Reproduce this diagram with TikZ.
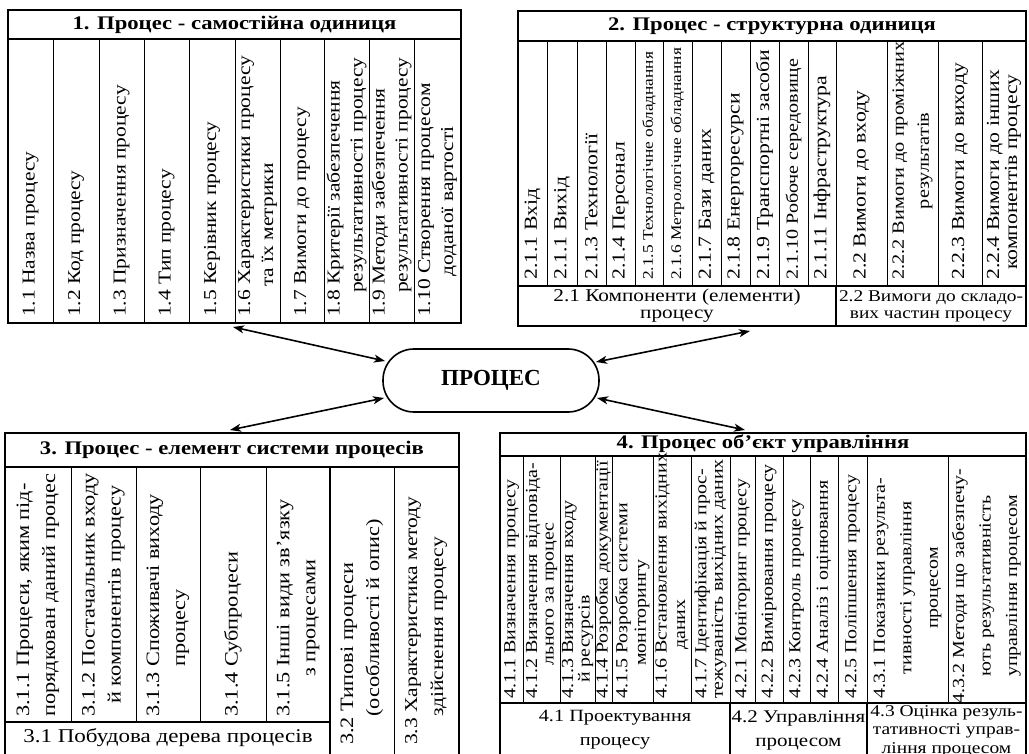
\documentclass[tikz,border=0pt]{standalone}
\usepackage{fontspec}
\setmainfont[FakeStretch=1.18]{Liberation Serif}
\newfontfamily\plainserif{Liberation Serif}
\usetikzlibrary{arrows.meta}
\newcommand{\fs}[2]{\fontsize{#1}{#2}\selectfont}
\tikzset{
  x=1pt, y=-1pt,
  border/.style={line width=1.8pt},
  thin/.style={line width=0.8pt},
  vt/.style={rotate=90, anchor=west, align=left, inner sep=0pt},
  vtc/.style={rotate=90, align=center, inner sep=0pt},
  ttl/.style={inner sep=0pt, font=\fs{19.2}{22}\bfseries},
  cell/.style={align=center, inner sep=0pt},
  conn/.style={line width=1.6pt, {Stealth[length=11pt,width=8pt,inset=3pt]}-{Stealth[length=11pt,width=8pt,inset=3pt]}},
}
\begin{document}
\begin{tikzpicture}
\useasboundingbox (0,0) rectangle (1029,754);
% ---------- Box 1 ----------
\draw[thin] \foreach \x in {53,99,144,189,235,280,324,369,414}{(\x,39) -- (\x,323)};
\draw[border] (8,10) rectangle (461,323) (8,39) -- (461,39);
\node[ttl] (t1) at (234.5,24.5) {1. Процес - самостійна одиниця};
\begin{scope}[every node/.append style={font=\fs{18.2}{23}}]
\node[vt] (c11) at (30.5,317) {1.1 Назва процесу};
\node[vt] (c12) at (76,317) {1.2 Код процесу};
\node[vt] (c13) at (121.5,317) {1.3 Призначення процесу};
\node[vt] (c14) at (166.5,317) {1.4 Тип процесу};
\node[vt] (c15) at (212,317) {1.5 Керівник процесу};
\node[vt] (c16) at (257.5,317) {1.6 Характеристики процесу\\\hspace*{30pt}та їх метрики};
\node[vt] (c17) at (302,317) {1.7 Вимоги до процесу};
\node[vt] (c18) at (346.5,317) {1.8 Критерії забезпечення\\\hspace*{24pt}результативності процесу};
\node[vt] (c19) at (391.5,317) {1.9 Методи забезпечення\\\hspace*{24pt}результативності процесу};
\node[vt] (c110) at (437.5,317) {1.10 Створення процесом\\\hspace*{40pt}доданої вартості};
\end{scope}
% ---------- Box 2 ----------
\draw[thin] \foreach \x in {547,577,606,635,663,692,721,750,779,808,836,887,938,982}{(\x,41) -- (\x,286)};
\draw[border] (518,11) rectangle (1026,326) (518,41) -- (1026,41) (518,286) -- (1026,286) (836,286) -- (836,326);
\node[ttl] (t2) at (772,26) {2. Процес - структурна одиниця};
\begin{scope}[every node/.append style={font=\fs{18.4}{22}}]
\node[vt] (c211) at (532.5,280) {2.1.1 Вхід};
\node[vt] (c212) at (562,280) {2.1.1 Вихід};
\node[vt] (c213) at (591.5,280) {2.1.3 Технології};
\node[vt] (c214) at (620.5,280) {2.1.4 Персонал};
\node[vt,font=\fs{14.7}{17}] (c215) at (649,280) {2.1.5 Технологічне обладнання};
\node[vt,font=\fs{14.7}{17}] (c216) at (677.5,280) {2.1.6 Метрологічне обладнання};
\node[vt] (c217) at (706.5,280) {2.1.7 Бази даних};
\node[vt] (c218) at (735.5,280) {2.1.8 Енергоресурси};
\node[vt] (c219) at (764.5,280) {2.1.9 Транспортні засоби};
\node[vt,font=\fs{17}{22}] (c2110) at (793.5,280) {2.1.10 Робоче середовище};
\node[vt] (c2111) at (822,280) {2.1.11 Інфраструктура};
\node[vt] (c22) at (861.5,280) {2.2 Вимоги до входу};
\node[vt,align=center,font=\fs{17.2}{25}] (c222) at (912.5,280) {2.2.2 Вимоги до проміжних\\результатів};
\node[vt] (c223) at (960,280) {2.2.3 Вимоги до виходу};
\node[vt,font=\fs{18.4}{18}] (c224) at (1004,280) {2.2.4 Вимоги до інших\\\hspace*{10pt}компонентів процесу};
\node[cell,font=\fs{18}{17}] (b21) at (677,306) {2.1 Компоненти (елементи)\\процесу};
\node[cell,font=\fs{16.4}{17}] (b22) at (931,306) {2.2 Вимоги до складо-\\вих частин процесу};
\end{scope}
% ---------- Box 3 ----------
\draw[thin] \foreach \x in {71,136,200,266}{(\x,467) -- (\x,722)} (394,467) -- (394,760);
\draw[border] (5,433) rectangle (459,760) (5,467) -- (459,467) (5,722) -- (330,722) (330,467) -- (330,760);
\node[ttl] (t3) at (232,450) {3. Процес - елемент системи процесів};
\begin{scope}[every node/.append style={font=\fs{18.9}{26}}]
\node[vt] (c311) at (38,717) {3.1.1 Процеси, яким під-\\порядкован даний процес};
\node[vt] (c312) at (103.5,717) {3.1.2 Постачальник входу\\\hspace*{13pt}й компонентів процесу};
\node[vt] (c313) at (168,717) {3.1.3 Споживачі виходу\\\hspace*{50pt}процесу};
\node[vt] (c314) at (233,717) {3.1.4 Субпроцеси};
\node[vt] (c315) at (298,717) {3.1.5 Інші види зв’язку\\\hspace*{40pt}з процесами};
\node[vt] (c32) at (362,745) {3.2 Типові процеси\\\hspace*{28pt}(особливості й опис)};
\node[vt,font=\fs{18.2}{26}] (c33) at (426,745) {3.3 Характеристика методу\\\hspace*{28pt}здійснення процесу};
\node[cell,font=\fs{19.5}{22}] (b31) at (168,738) {3.1 Побудова дерева процесів};
\end{scope}
% ---------- Box 4 ----------
\draw[thin] \foreach \x in {523,560,595,612,653,691,730,755,783,810,838,867,948}{(\x,456) -- (\x,703)};
\draw[border] (500,433) rectangle (1026,760) (500,456) -- (1026,456) (500,703) -- (1026,703) (730,703) -- (730,760) (867,703) -- (867,760);
\node[ttl] (t4) at (763,444) {4. Процес об’єкт управління};
\begin{scope}[every node/.append style={font=\fs{16.9}{16.5}}]
\node[vt] (c411) at (511.5,699) {4.1.1 Визначення процесу};
\node[vt] (c412) at (541.5,699) {4.1.2 Визначення відповіда-\\\hspace*{33pt}льного за процес};
\node[vt] (c413) at (577.5,699) {4.1.3 Визначення входу\\\hspace*{16pt}й ресурсів};
\node[vt] (c414) at (603.5,699) {4.1.4 Розробка документації};
\node[vt,font=\fs{16.9}{18.5}] (c415) at (632.5,699) {4.1.5 Розробка системи\\\hspace*{33pt}моніторингу};
\node[vt,font=\fs{16.9}{18.5}] (c416) at (672,699) {4.1.6 Встановлення вихідних\\\hspace*{49pt}даних};
\node[vt] (c417) at (710.5,699) {4.1.7 Ідентифікація й прос-\\тежуваність вихідних даних};
\node[vt] (c421) at (742.5,699) {4.2.1 Моніторинг процесу};
\node[vt] (c422) at (769,699) {4.2.2 Вимірювання процесу};
\node[vt] (c423) at (796.5,699) {4.2.3 Контроль процесу};
\node[vt] (c424) at (824,699) {4.2.4 Аналіз і оцінювання};
\node[vt] (c425) at (852.5,699) {4.2.5 Поліпшення процесу};
\node[vtc,font=\fs{16.9}{26.5}] (c431) at (907.5,588) {4.3.1 Показники результа-\\тивності управління\\процесом};
\node[vtc,font=\fs{16.9}{26.5}] (c432) at (986.5,586) {4.3.2 Методи що забезпечу-\\ють результативність\\управління процесом};
\node[cell,font=\fs{17.2}{24}] (b41) at (615,730) {4.1 Проектування\\процесу};
\node[cell,font=\fs{17.8}{24}] (b42) at (798.5,730) {4.2 Управління\\процесом};
\node[cell,font=\fs{16.5}{18.5}] (b43) at (946.5,731) {4.3 Оцінка резуль-\\тативності управ-\\ління процесом};
\end{scope}
% ---------- Centre ----------
\node[draw, line width=1.6pt, rounded corners=31pt, minimum width=216pt, minimum height=63pt, font=\plainserif\fs{23}{23}\bfseries] (proc) at (491,380.5) {ПРОЦЕС};
\coordinate (p1) at (385,361);
\coordinate (p2) at (596,362);
\coordinate (p3) at (384,398);
\coordinate (p4) at (597,398);
\coordinate (e1) at (233,327);
\coordinate (e2) at (750,331);
\coordinate (e3) at (230,430);
\coordinate (e4) at (745,430);
\draw[conn] (e1) -- (p1);
\draw[conn] (p2) -- (e2);
\draw[conn] (e3) -- (p3);
\draw[conn] (p4) -- (e4);
\end{tikzpicture}
\end{document}
